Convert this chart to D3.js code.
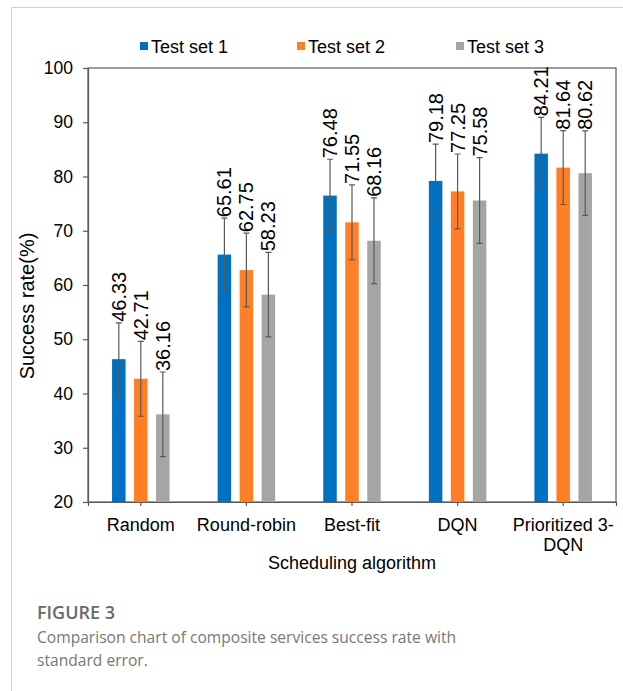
<!DOCTYPE html>
<html>
<head>
<meta charset="utf-8">
<script src="https://cdn.jsdelivr.net/npm/d3@7"></script>
<style>
  body { margin: 0; background: #fff; }
  svg text { font-family: "Liberation Sans", Arial, sans-serif; }
  svg text.cap { font-family: "Open Sans", "Noto Sans", sans-serif; }
</style>
</head>
<body>
<div class="chart"></div>
<script>
// data
const algorithms = ["Random", "Round-robin", "Best-fit", "DQN", "Prioritized 3-DQN"]
const seriesNames = ["Test set 1", "Test set 2", "Test set 3"]
const set1 = [46.33, 65.61, 76.48, 79.18, 84.21]
const set2 = [42.71, 62.75, 71.55, 77.25, 81.64]
const set3 = [36.16, 58.23, 68.16, 75.58, 80.62]
const err1 = [6.7, 6.7, 6.7, 6.8, 6.7]
const err2 = [6.9, 6.8, 6.9, 6.9, 6.8]
const err3 = [7.8, 7.8, 7.9, 7.9, 7.8]
const yTicks = [20, 30, 40, 50, 60, 70, 80, 90, 100]
const colors = ["#0070C0", "#FF7F27", "#A5A5A5"]

const values = [set1, set2, set3]
const errors = [err1, err2, err3]

let w = 623
let h = 691
let pLeft = 88, pRight = 616, pTop = 68, pBottom = 502

let svg = d3.select(".chart")
  .append("svg")
  .attr("width", w)
  .attr("height", h)

// card border
svg.append("path")
  .attr("d", "M11.5," + h + "V7.5H" + w)
  .attr("fill", "none")
  .attr("stroke", "#d0d0d0")

const xScale = d3.scaleBand()
  .domain(algorithms)
  .range([pLeft, pRight])

const xInner = d3.scaleBand()
  .domain(seriesNames)
  .range([-33, 33])

const yScale = d3.scaleLinear()
  .domain([20, 100])
  .range([pBottom, pTop])

// frame
svg.append("rect")
  .attr("x", pLeft).attr("y", pTop)
  .attr("width", pRight - pLeft).attr("height", pBottom - pTop)
  .attr("fill", "none")
  .attr("stroke", "#595959")
  .attr("stroke-width", 1.2)

// y axis
const yAxis = d3.axisLeft(yScale)
  .tickValues(yTicks)
  .tickSize(5)
  .tickPadding(10)
let gy = svg.append("g")
  .attr("transform", "translate(" + pLeft + ",0)")
  .call(yAxis)
gy.select(".domain").attr("stroke", "#595959").attr("stroke-width", 1.2)
gy.selectAll(".tick line").attr("stroke", "#595959").attr("stroke-width", 1.2)
gy.selectAll(".tick text").style("font-size", "17.5px").attr("fill", "#000")

// x axis
const xAxis = d3.axisBottom(xScale).tickSize(4).tickPadding(8).tickFormat("")
let gx = svg.append("g")
  .attr("transform", "translate(0," + pBottom + ")")
  .call(xAxis)
gx.select(".domain").attr("stroke", "#595959").attr("stroke-width", 1.2)
gx.selectAll(".tick line").attr("stroke", "#595959").attr("stroke-width", 1.2)
gx.selectAll(".tick").append("text")
  .attr("y", 29)
  .attr("text-anchor", "middle")
  .attr("fill", "#000")
  .style("font-size", "18px")
  .each(function(d) {
    let t = d3.select(this)
    let lines = d === "Prioritized 3-DQN" ? ["Prioritized 3-", "DQN"] : [d]
    lines.forEach((l, i) => t.append("tspan").attr("x", 0).attr("dy", i ? 20 : 0).text(l))
  })

// bars
let barW = 13.5
seriesNames.forEach((s, si) => {
  let g = svg.append("g")
  let cx = (d, i) => xScale(algorithms[i]) + xScale.bandwidth() / 2 + xInner(s) + xInner.bandwidth() / 2
  g.selectAll("rect")
    .data(values[si])
    .enter()
    .append("rect")
    .attr("x", (d, i) => cx(d, i) - barW / 2)
    .attr("width", barW)
    .attr("y", d => yScale(d))
    .attr("height", d => yScale(20) - yScale(d))
    .attr("fill", colors[si])

  // error bars
  g.selectAll(".err")
    .data(values[si])
    .enter()
    .append("path")
    .attr("class", "err")
    .attr("d", (d, i) => {
      let x = cx(d, i), e = errors[si][i]
      let y1 = yScale(d + e), y2 = yScale(d - e)
      return "M" + (x - 3) + "," + y1 + "H" + (x + 3) + "M" + x + "," + y1 + "V" + y2 + "M" + (x - 3) + "," + y2 + "H" + (x + 3)
    })
    .attr("stroke", "#595959")
    .attr("stroke-width", 1.2)
    .attr("fill", "none")

  // value labels
  g.selectAll(".lbl")
    .data(values[si])
    .enter()
    .append("text")
    .attr("class", "lbl")
    .attr("transform", (d, i) => "translate(" + (cx(d, i) + 7) + "," + (yScale(d + errors[si][i]) - 1) + ") rotate(-90)")
    .attr("fill", "#000")
    .style("font-size", "20px")
    .text(d => d.toFixed(2))
})

// legend
let legX = [140, 297, 456]
seriesNames.forEach((s, i) => {
  svg.append("rect")
    .attr("x", legX[i]).attr("y", 42)
    .attr("width", 8).attr("height", 8)
    .attr("fill", colors[i])
  svg.append("text")
    .attr("x", legX[i] + 11).attr("y", 53)
    .attr("fill", "#000")
    .style("font-size", "18px")
    .text(s)
})

// axis titles
svg.append("text")
  .attr("x", (pLeft + pRight) / 2).attr("y", 569)
  .attr("text-anchor", "middle")
  .attr("fill", "#000")
  .style("font-size", "18px")
  .text("Scheduling algorithm")
svg.append("text")
  .attr("transform", "translate(34,306) rotate(-90)")
  .attr("text-anchor", "middle")
  .attr("fill", "#000")
  .style("font-size", "20px")
  .text("Success rate(%)")

// caption
svg.append("text").attr("class", "cap")
  .attr("x", 37).attr("y", 619)
  .style("font-size", "18px").style("font-weight", 600)
  .attr("fill", "#6a6a6a")
  .text("FIGURE 3")
svg.append("text").attr("class", "cap")
  .attr("x", 37).attr("y", 643)
  .style("font-size", "15.6px")
  .attr("fill", "#777")
  .text("Comparison chart of composite services success rate with")
svg.append("text").attr("class", "cap")
  .attr("x", 37).attr("y", 666)
  .style("font-size", "15.6px")
  .attr("fill", "#777")
  .text("standard error.")
</script>
</body>
</html>
